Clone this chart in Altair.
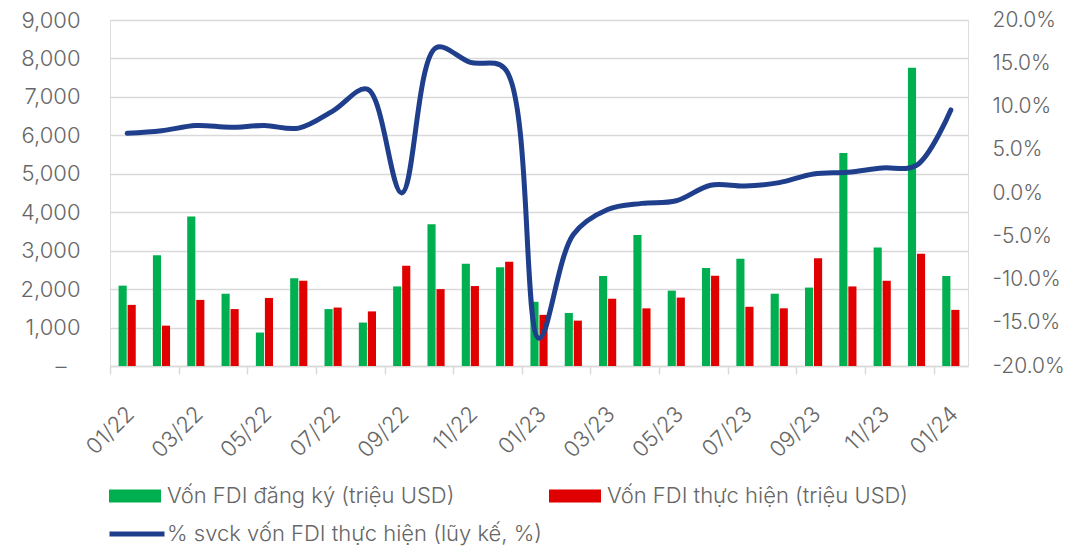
import altair as alt
import pandas as pd

months = ["01/22", "02/22", "03/22", "04/22", "05/22", "06/22", "07/22", "08/22", "09/22",
          "10/22", "11/22", "12/22", "01/23", "02/23", "03/23", "04/23", "05/23", "06/23",
          "07/23", "08/23", "09/23", "10/23", "11/23", "12/23", "01/24"]
registered = [2090, 2880, 3890, 1880, 870, 2280, 1480, 1130, 2070, 3690, 2660, 2570, 1670,
              1380, 2340, 3410, 1960, 2550, 2790, 1880, 2040, 5540, 3080, 7760, 2340]
disbursed = [1590, 1050, 1720, 1480, 1770, 2220, 1520, 1420, 2610, 2000, 2080, 2710, 1330,
             1180, 1750, 1500, 1780, 2350, 1540, 1500, 2800, 2070, 2220, 2920, 1460]
yoy = [6.9, 7.2, 7.8, 7.6, 7.8, 7.5, 9.5, 12.0, 0.0, 16.8, 15.1, 14.4, -16.8, -4.8, -1.9,
       -1.2, -0.9, 0.9, 0.8, 1.2, 2.2, 2.4, 2.9, 3.2, 9.6]

s_reg = "Vốn FDI đăng ký (triệu USD)"
s_dis = "Vốn FDI thực hiện (triệu USD)"
s_yoy = "% svck vốn FDI thực hiện (lũy kế, %)"

bars_df = pd.DataFrame(
    [{"month": m, "series": s_reg, "value": v} for m, v in zip(months, registered)]
    + [{"month": m, "series": s_dis, "value": v} for m, v in zip(months, disbursed)]
)
line_df = pd.DataFrame({"month": months, "pct": yoy, "series": [s_yoy] * len(months)})

FONT = "Inter"
FW = 300
FS = 22
RFS = 21
LFS = 22
TXT = "#666666"
GRID = "#d9d9d9"
STEP = 858 / 25
H = 346
TOP = 12

xscale = alt.Scale(domain=months, paddingInner=0.5, paddingOuter=0.25)
xaxis = alt.Axis(
    title=None, values=months[::2], labelAngle=-45, labelAlign="right", labelBaseline="middle",
    tickOffset=-STEP / 2, labelOffset=STEP / 2 + 3, tickSize=8, tickColor=GRID, tickWidth=1.5,
    domainColor=GRID, domainWidth=1.5, labelPadding=36, grid=False,
    labelFont=FONT, labelFontWeight=FW, labelFontSize=FS, labelColor=TXT,
)

bars = alt.Chart(bars_df).mark_bar().encode(
    x=alt.X("month:N", sort=months, scale=xscale, axis=xaxis),
    xOffset=alt.XOffset("series:N", sort=[s_reg, s_dis], scale=alt.Scale(paddingInner=0.1, paddingOuter=0)),
    y=alt.Y("value:Q", scale=alt.Scale(domain=[0, 9000], nice=False),
            axis=alt.Axis(title=None, values=list(range(0, 9001, 1000)), grid=True, gridColor=GRID,
                          gridWidth=1.5, ticks=False, domain=False,
                          labelPadding={"condition": {"test": "datum.value === 0", "value": 44}, "value": 30},
                          labelExpr="datum.value == 0 ? '–' : format(datum.value, ',')",
                          labelFont=FONT, labelFontWeight=FW, labelFontSize=FS, labelColor=TXT)),
    color=alt.Color("series:N", sort=[s_reg, s_dis],
                    scale=alt.Scale(domain=[s_reg, s_dis], range=["#00b050", "#e00000"]),
                    legend=alt.Legend(title=None, orient="none", legendX=-1, legendY=450, columns=2,
                                      columnPadding=94, symbolType="M-1,-0.25H1V0.25H-1Z",
                                      symbolSize=2704, symbolStrokeWidth=0, labelOffset=6,
                                      labelFont=FONT, labelFontWeight=FW, labelFontSize=LFS,
                                      labelColor=TXT, labelLimit=500, padding=0)),
)

line = alt.Chart(line_df).mark_line(strokeWidth=5, interpolate="catmull-rom", strokeCap="round").encode(
    x=alt.X("month:N", sort=months, scale=xscale, axis=xaxis),
    y=alt.Y("pct:Q", scale=alt.Scale(domain=[-20, 20], nice=False),
            axis=alt.Axis(title=None, orient="right", values=list(range(-20, 21, 5)), grid=False,
                          ticks=False, domain=False, labelPadding=24,
                          labelExpr="(datum.value < 0 ? '-' : '') + format(abs(datum.value), '.1f') + '%'",
                          labelFont=FONT, labelFontWeight=FW, labelFontSize=RFS, labelColor=TXT)),
    stroke=alt.Stroke("series:N", scale=alt.Scale(domain=[s_yoy], range=["#1f3f8c"]),
                      legend=alt.Legend(title=None, orient="none", legendX=-3, legendY=484,
                                        symbolType="stroke", symbolSize=3025, symbolStrokeWidth=5,
                                        labelOffset=0, labelFont=FONT, labelFontWeight=FW,
                                        labelFontSize=LFS, labelColor=TXT, labelLimit=500, padding=0)),
)

chart = alt.layer(bars, line).resolve_scale(y="independent", color="independent").properties(
    width=858, height=H,
    autosize=alt.AutoSizeParams(type="none"),
    padding={"left": 102, "top": TOP, "right": 98, "bottom": 540 - TOP - H},
).configure_view(stroke=None).configure(font=FONT)

chart.save("out.html", embed_options={"renderer": "svg", "actions": False})
